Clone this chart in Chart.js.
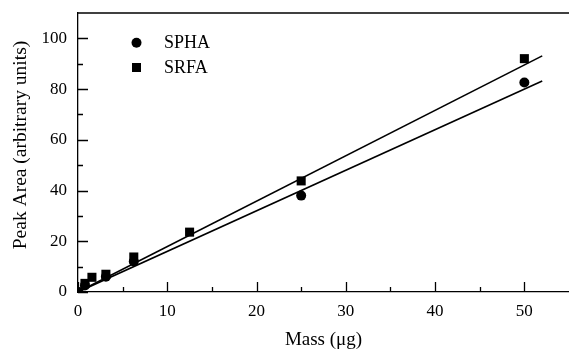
<!DOCTYPE html>
<html>
<head>
<meta charset="utf-8">
<script src="https://cdn.jsdelivr.net/npm/chart.js@4/dist/chart.umd.min.js"></script>
<style>
html,body{margin:0;padding:0;background:#fff;}
#wrap{width:569px;height:354px;position:relative;}
</style>
</head>
<body>
<div id="wrap"><canvas id="c" width="569" height="354"></canvas></div>
<script>
// ---- data ----
const sphaMass = [0, 0.78, 3.125, 6.25, 25, 50];
const sphaArea = [0, 2.6, 6.0, 12.0, 38.0, 82.6];
const srfaMass = [0, 0.78, 1.56, 3.125, 6.25, 12.5, 25, 50];
const srfaArea = [0, 3.4, 5.8, 7.0, 13.8, 23.6, 43.8, 92.0];
const fitMass = [0, 52];
const sphaFit = [0, 83.2];
const srfaFit = [0, 93.1];
const xMajorTicks = [0, 10, 20, 30, 40, 50];
const xMinorTicks = [5, 15, 25, 35, 45];
const yMajorTicks = [0, 20, 40, 60, 80, 100];
const yMinorTicks = [10, 30, 50, 70, 90];
const legendLabels = ['SPHA', 'SRFA'];
const xTitle = 'Mass (μg)';
const yTitle = 'Peak Area (arbitrary units)';

const pts = (xs, ys) => xs.map((x, i) => ({x: x, y: ys[i]}));
const FONT = "'Liberation Serif', 'Times New Roman', serif";

const decor = {
  id: 'decor',
  afterDraw(chart) {
    const ctx = chart.ctx;
    const xs = chart.scales.x, ys = chart.scales.y;
    const a = chart.chartArea;
    ctx.save();
    ctx.strokeStyle = '#000';
    ctx.lineWidth = 1.3;
    // top frame line
    ctx.beginPath();
    ctx.moveTo(a.left, a.top);
    ctx.lineTo(a.right, a.top);
    ctx.stroke();
    // inward ticks
    ctx.beginPath();
    xMajorTicks.forEach(v => { const p = Math.round(xs.getPixelForValue(v)) + 0.5; ctx.moveTo(p, a.bottom); ctx.lineTo(p, a.bottom - 10); });
    xMinorTicks.forEach(v => { const p = Math.round(xs.getPixelForValue(v)) + 0.5; ctx.moveTo(p, a.bottom); ctx.lineTo(p, a.bottom - 5); });
    yMajorTicks.forEach(v => { const p = Math.round(ys.getPixelForValue(v)) + 0.5; ctx.moveTo(a.left, p); ctx.lineTo(a.left + 10, p); });
    yMinorTicks.forEach(v => { const p = Math.round(ys.getPixelForValue(v)) + 0.5; ctx.moveTo(a.left, p); ctx.lineTo(a.left + 5, p); });
    ctx.stroke();
    // y axis title
    ctx.fillStyle = '#000';
    ctx.save();
    ctx.translate(20.5, 145);
    ctx.rotate(-Math.PI / 2);
    ctx.font = '19.5px ' + FONT;
    ctx.textAlign = 'center';
    ctx.textBaseline = 'middle';
    ctx.fillText(yTitle, 0, 0);
    ctx.restore();
    // legend
    ctx.beginPath();
    ctx.arc(136.5, 42.7, 5, 0, Math.PI * 2);
    ctx.fill();
    ctx.fillRect(132, 63, 9, 9);
    ctx.font = '18px ' + FONT;
    ctx.textBaseline = 'middle';
    ctx.textAlign = 'left';
    ctx.fillText(legendLabels[0], 164, 43);
    ctx.fillText(legendLabels[1], 164, 68);
    ctx.restore();
  }
};

new Chart(document.getElementById('c'), {
  type: 'scatter',
  data: {
    datasets: [
      {label: 'SPHA fit', data: pts(fitMass, sphaFit), showLine: true, borderColor: '#000', borderWidth: 1.6, pointRadius: 0},
      {label: 'SRFA fit', data: pts(fitMass, srfaFit), showLine: true, borderColor: '#000', borderWidth: 1.6, pointRadius: 0},
      {label: legendLabels[0], data: pts(sphaMass, sphaArea), pointStyle: 'circle', pointRadius: 5, backgroundColor: '#000', borderColor: '#000', borderWidth: 0},
      {label: legendLabels[1], data: pts(srfaMass, srfaArea), pointStyle: 'rect', pointRadius: 6.4, backgroundColor: '#000', borderColor: '#000', borderWidth: 0}
    ]
  },
  options: {
    responsive: false,
    animation: false,
    devicePixelRatio: 1,
    layout: {autoPadding: false, padding: {top: 13, right: 0, left: 0, bottom: 0}},
    plugins: {legend: {display: false}, tooltip: {enabled: false}},
    scales: {
      x: {
        type: 'linear', min: 0, max: 55,
        grid: {display: false, drawTicks: false},
        border: {display: true, color: '#000', width: 1.3},
        ticks: {stepSize: 10, includeBounds: false, color: '#000', font: {family: FONT, size: 17}, padding: 9, maxRotation: 0},
        title: {display: true, text: xTitle, color: '#000', font: {family: FONT, size: 19}, padding: {top: 0, bottom: 3}},
        afterFit(s) { s.height = 62; }
      },
      y: {
        type: 'linear', min: 0, max: 110,
        grid: {display: false, drawTicks: false},
        border: {display: true, color: '#000', width: 1.3},
        ticks: {stepSize: 20, includeBounds: false, color: '#000', font: {family: FONT, size: 17, lineHeight: 0.1}, padding: 11},
        afterFit(s) { s.width = 78; }
      }
    }
  },
  plugins: [decor]
});
</script>
</body>
</html>
